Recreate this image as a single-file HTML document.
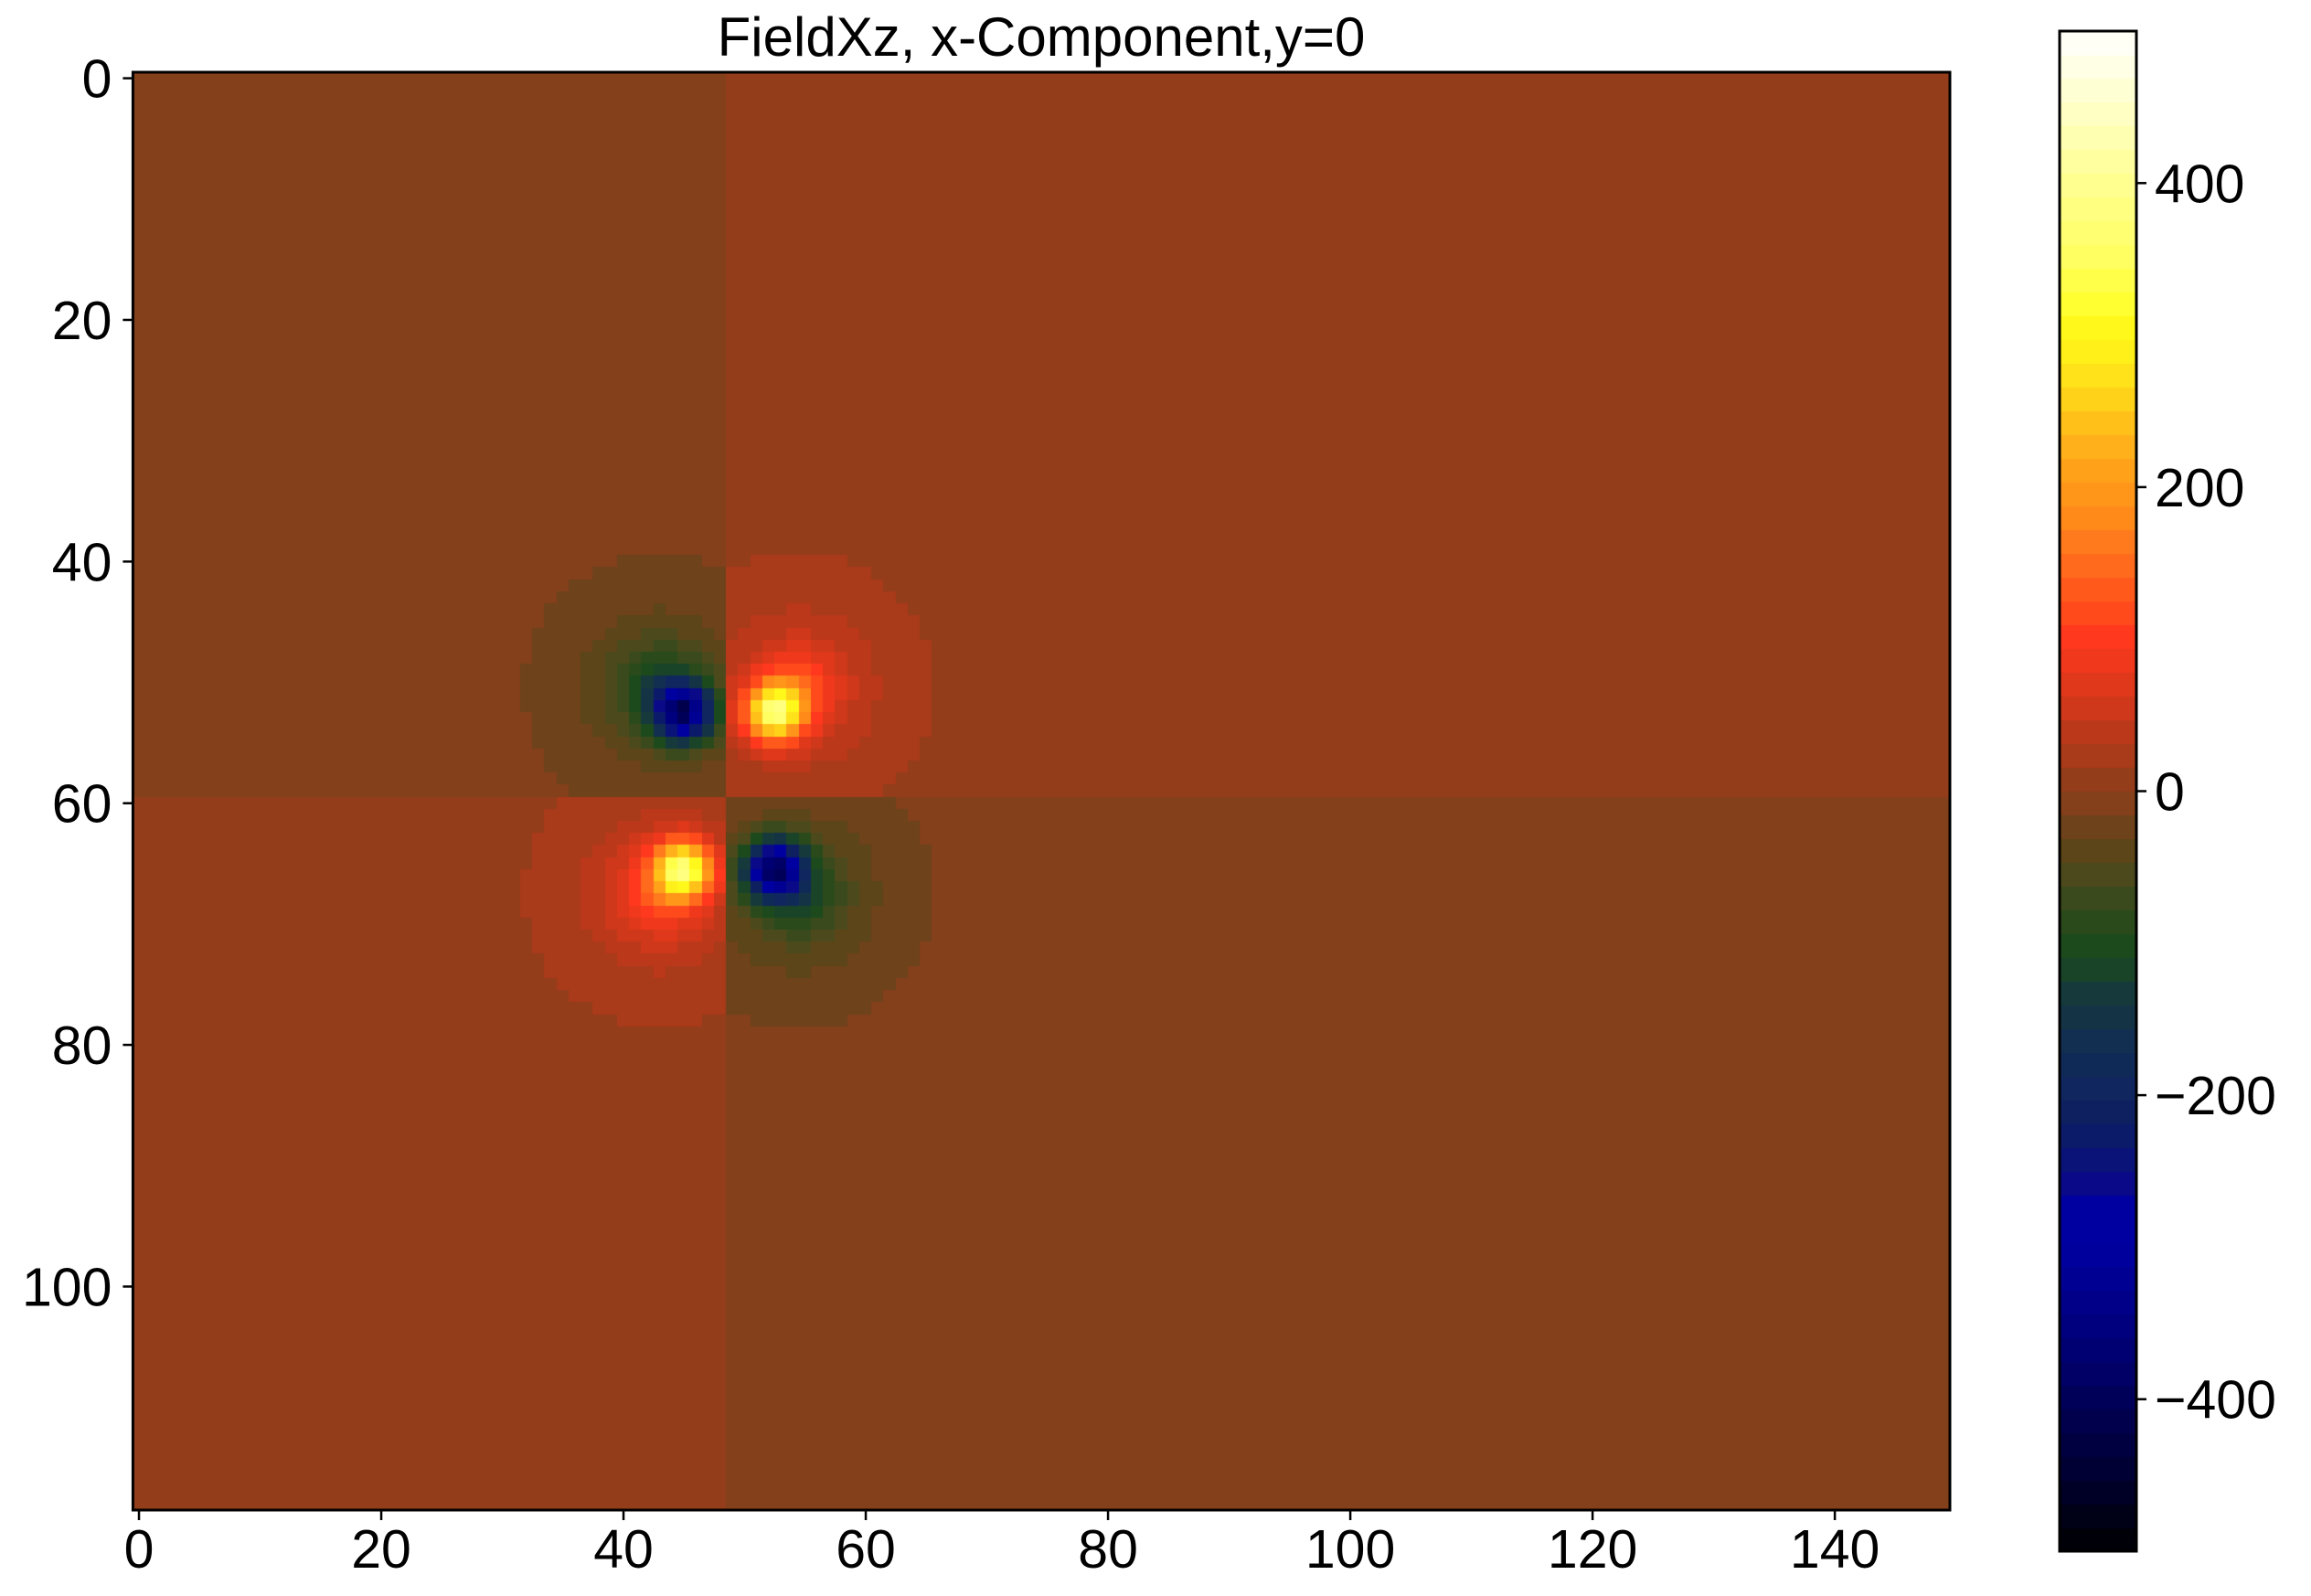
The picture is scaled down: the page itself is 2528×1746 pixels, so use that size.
<!DOCTYPE html>
<html><head><meta charset="utf-8"><style>
body{margin:0;background:#fff;width:2528px;height:1746px;overflow:hidden;position:relative;font-family:"Liberation Sans","DejaVu Sans",sans-serif}
canvas,svg{position:absolute;left:0;top:0}
</style></head><body>
<canvas id="cv" width="2528" height="1746"></canvas>
<svg id="sv" width="2528" height="1746"></svg>
<script>
// ---- data ----
const nCols = 150;
const nRows = 119;
const vMin = -500;
const vMax = 500;
const nLevels = 64;
const splitCol = 48.5;
const splitRow = 59.5;
const quadBase = [-5, 5, 5, -5]; // TL, TR, BL, BR
const lobeCols = [45.0, 52.5, 45.0, 52.5];
const lobeRows = [52.5, 52.5, 65.5, 65.5];
const lobeSign = [-1, 1, 1, -1];
const lobeCore = [340, 320, 320, 340];
const lobeHalo = [120, 120, 120, 120];
const xTicks = [0, 20, 40, 60, 80, 100, 120, 140];
const yTicks = [0, 20, 40, 60, 80, 100];
const cTicks = [400, 200, 0, -200, -400];
const cStops = [[-500,'#000000'],[-450,'#000030'],[-400,'#000058'],[-350,'#000080'],[-300,'#0000a0'],[-273,'#0000a0'],[-258,'#0a0a88'],[-242,'#0a1478'],[-227,'#0c1a6a'],[-211,'#0e2060'],[-195,'#10265e'],[-180,'#102a58'],[-164,'#122e50'],[-148,'#143446'],[-133,'#163a3c'],[-117,'#1a4428'],[-102,'#1c4a1c'],[-86,'#2a4a1c'],[-70,'#3a4a1c'],[-55,'#4c4a1d'],[-39,'#5c4519'],[-23,'#6e421b'],[-7.8,'#83401b'],[7.8,'#933d1b'],[23,'#a83a1a'],[39,'#bb381a'],[55,'#cf381a'],[70,'#df381a'],[86,'#f0381c'],[102,'#ff381e'],[117,'#ff4a1c'],[133,'#ff5a1c'],[148,'#ff6a1c'],[164,'#ff7a1c'],[180,'#ff8a1a'],[195,'#ff961a'],[211,'#ffa21a'],[227,'#ffb01a'],[242,'#ffc01a'],[258,'#ffd21a'],[273,'#ffe21a'],[289,'#fff01a'],[305,'#fff81a'],[320,'#ffff30'],[350,'#ffff60'],[400,'#ffff90'],[450,'#ffffc8'],[500,'#ffffff']];

// ---- layout ----
const PL = 145.4, PT = 79, PR = 2133, PB = 1652;
const cw = (PR - PL) / nCols, ch = (PB - PT) / nRows;
const xS = c => PL + (c + 0.5) * cw;
const yS = r => PT + (r + 0.5) * ch;
const CBL = 2253, CBR = 2337, CBT = 34, CBB = 1697;
const cS = v => CBB - (v - vMin) / (vMax - vMin) * (CBB - CBT);

function hex(h){return [parseInt(h.substr(1,2),16),parseInt(h.substr(3,2),16),parseInt(h.substr(5,2),16)];}
function interp(v){
  for(let i=0;i<cStops.length-1;i++){
    const a=cStops[i],b=cStops[i+1];
    if(v<=b[0]){const t=Math.max(0,(v-a[0])/(b[0]-a[0]));const A=hex(a[1]),B=hex(b[1]);
      return 'rgb('+A.map((x,k)=>Math.round(x+(B[k]-x)*t)).join(',')+')';}
  }
  return cStops[cStops.length-1][1];
}
function colorOf(v){
  const step=(vMax-vMin)/nLevels;
  let k=Math.floor((v-vMin)/step); k=Math.max(0,Math.min(nLevels-1,k));
  return interp(vMin+(k+0.5)*step);
}
function fieldAt(c,r){
  const q=(r<splitRow?0:2)+(c<splitCol?0:1);
  const cc=lobeCols[q], rr=lobeRows[q];
  const d2=(c-cc)**2+(r-rr)**2;
  const oc=cc+(c<splitCol?-2:2), or=rr+(r<splitRow?-2:2);
  const e2=(c-oc)**2+(r-or)**2;
  return quadBase[q]+lobeSign[q]*(lobeCore[q]*Math.exp(-d2/(2*1.6*1.6))+lobeHalo[q]/(1+e2/12));
}
const ctx=document.getElementById('cv').getContext('2d');
for(let r=0;r<nRows;r++)for(let c=0;c<nCols;c++){
  ctx.fillStyle=colorOf(fieldAt(c,r));
  ctx.fillRect(Math.floor(PL+c*cw),Math.floor(PT+r*ch),Math.ceil(cw)+1,Math.ceil(ch)+1);
}
ctx.clearRect(PR+1,0,300,1746);ctx.clearRect(0,PB+1,2528,200);
const bh=(CBB-CBT)/nLevels;
for(let k=0;k<nLevels;k++){
  ctx.fillStyle=interp(vMin+(k+0.5)*(vMax-vMin)/nLevels);
  ctx.fillRect(CBL,Math.floor(CBB-(k+1)*bh),CBR-CBL,Math.ceil(bh)+1);
}
const NS='http://www.w3.org/2000/svg', sv=document.getElementById('sv');
function mk(t,a,txt){const e=document.createElementNS(NS,t);for(const k in a)e.setAttribute(k,a[k]);if(txt!==undefined)e.textContent=txt;sv.appendChild(e);return e;}
let e;
e=mk('rect',{x:PL,y:PT,width:PR-PL,height:PB-PT,fill:'none',stroke:'#000','stroke-width':3});


e=mk('rect',{x:CBL,y:CBT,width:CBR-CBL,height:CBB-CBT,fill:'none',stroke:'#000','stroke-width':3});


e=mk('text',{x:1139,y:61,'font-size':60,'text-anchor':'middle'},'FieldXz, x-Component,y=0');


xTicks.forEach(t=>{
  e=mk('line',{x1:xS(t),x2:xS(t),y1:PB,y2:PB+11,stroke:'#000','stroke-width':2.5});
  
  
  e=mk('text',{x:xS(t),y:PB+63,'font-size':59,'text-anchor':'middle'},String(t));
  
  
});
yTicks.forEach(t=>{
  e=mk('line',{x1:PL-11,x2:PL,y1:yS(t),y2:yS(t),stroke:'#000','stroke-width':2.5});
  
  
  e=mk('text',{x:PL-23,y:yS(t)+21,'font-size':59,'text-anchor':'end'},String(t));
  
  
});
cTicks.forEach(t=>{
  e=mk('line',{x1:CBR,x2:CBR+11,y1:cS(t),y2:cS(t),stroke:'#000','stroke-width':2.5});
  
  
  e=mk('text',{x:CBR+20,y:cS(t)+21,'font-size':59},(t<0?'\u2212':'')+Math.abs(t));
  
  
});
</script>
</body></html>
